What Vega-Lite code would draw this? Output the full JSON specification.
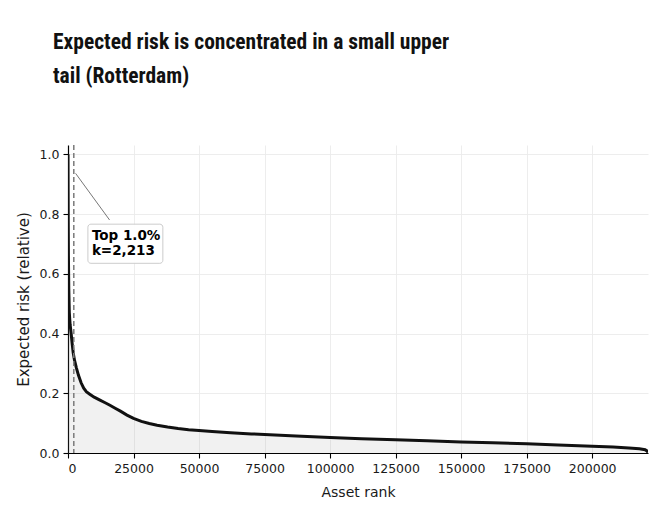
{
  "$schema": "https://vega.github.io/schema/vega-lite/v6.json",
  "width": 580,
  "height": 308,
  "autosize": {"type": "none"},
  "padding": {"left": 68, "top": 145, "right": 16, "bottom": 75},
  "background": "white",
  "title": {
    "text": ["Expected risk is concentrated in a small upper", "tail (Rotterdam)"],
    "font": "Roboto Condensed, Roboto",
    "fontSize": 21.5,
    "fontWeight": "bold",
    "color": "#111111",
    "anchor": "start",
    "frame": "group",
    "dx": -15,
    "offset": 57,
    "lineHeight": 34
  },
  "config": {
    "view": {"stroke": null},
    "axis": {
      "labelFont": "DejaVu Sans",
      "labelFontSize": 12.5,
      "labelColor": "#1a1a1a",
      "titleFont": "DejaVu Sans",
      "titleFontSize": 14,
      "titleFontWeight": "normal",
      "titleColor": "#1a1a1a",
      "domainColor": "#000000",
      "domainWidth": 1.2,
      "tickColor": "#000000",
      "tickSize": 5,
      "tickWidth": 1.1,
      "gridColor": "#ebebeb",
      "gridWidth": 0.9,
      "labelPadding": 4
    }
  },
  "datasets": {
    "curve": [
      {"rank": 0, "risk": 1.0},
      {"rank": 30, "risk": 0.9},
      {"rank": 80, "risk": 0.78},
      {"rank": 160, "risk": 0.66},
      {"rank": 300, "risk": 0.55},
      {"rank": 500, "risk": 0.47},
      {"rank": 800, "risk": 0.43},
      {"rank": 1200, "risk": 0.4},
      {"rank": 1600, "risk": 0.365},
      {"rank": 2000, "risk": 0.335},
      {"rank": 2500, "risk": 0.31},
      {"rank": 3200, "risk": 0.285},
      {"rank": 4000, "risk": 0.26},
      {"rank": 5000, "risk": 0.235},
      {"rank": 6000, "risk": 0.217},
      {"rank": 7000, "risk": 0.205},
      {"rank": 8300, "risk": 0.197},
      {"rank": 10000, "risk": 0.187},
      {"rank": 12000, "risk": 0.178},
      {"rank": 14000, "risk": 0.169},
      {"rank": 16000, "risk": 0.16},
      {"rank": 18000, "risk": 0.15},
      {"rank": 20000, "risk": 0.14},
      {"rank": 22500, "risk": 0.127},
      {"rank": 25000, "risk": 0.116},
      {"rank": 28000, "risk": 0.106},
      {"rank": 31000, "risk": 0.099},
      {"rank": 34000, "risk": 0.093},
      {"rank": 38000, "risk": 0.087},
      {"rank": 42000, "risk": 0.082},
      {"rank": 46000, "risk": 0.078},
      {"rank": 50000, "risk": 0.075},
      {"rank": 55000, "risk": 0.072},
      {"rank": 62000, "risk": 0.068},
      {"rank": 70000, "risk": 0.064},
      {"rank": 75000, "risk": 0.062},
      {"rank": 87000, "risk": 0.057},
      {"rank": 100000, "risk": 0.052},
      {"rank": 112000, "risk": 0.048},
      {"rank": 125000, "risk": 0.044},
      {"rank": 137000, "risk": 0.041},
      {"rank": 150000, "risk": 0.037},
      {"rank": 162000, "risk": 0.034},
      {"rank": 175000, "risk": 0.031},
      {"rank": 187000, "risk": 0.027},
      {"rank": 200000, "risk": 0.023},
      {"rank": 208000, "risk": 0.02},
      {"rank": 214000, "risk": 0.017},
      {"rank": 218000, "risk": 0.014},
      {"rank": 220200, "risk": 0.011},
      {"rank": 220900, "risk": 0.007},
      {"rank": 221300, "risk": 0.002}
    ],
    "cutoff": [{"k": 2213}],
    "leader": [{"x1": 2900, "y1": 0.936, "x2": 15860, "y2": 0.78}],
    "box": [{"x1": 7590, "x2": 36190, "y1": 0.635, "y2": 0.766}],
    "note": [{"x": 9110, "y": 0.713, "label": "Top 1.0%\nk=2,213"}]
  },
  "layer": [
    {
      "data": {"name": "curve"},
      "mark": {"type": "area", "color": "#888888", "opacity": 0.12},
      "encoding": {
        "x": {
          "field": "rank", "type": "quantitative",
          "scale": {"domain": [0, 221300], "nice": false, "zero": false},
          "axis": {
            "title": "Asset rank",
            "values": [0, 25000, 50000, 75000, 100000, 125000, 150000, 175000, 200000],
            "format": "d",
            "grid": true,
            "titlePadding": 11
          }
        },
        "y": {
          "field": "risk", "type": "quantitative",
          "scale": {"domain": [0, 1.031], "nice": false},
          "axis": {
            "title": "Expected risk (relative)",
            "titleFontSize": 15,
            "values": [0, 0.2, 0.4, 0.6, 0.8, 1.0],
            "format": ".1f",
            "grid": true,
            "titlePadding": 8
          }
        }
      }
    },
    {
      "data": {"name": "curve"},
      "mark": {"type": "line", "color": "#111111", "strokeWidth": 3, "clip": true},
      "encoding": {
        "x": {"field": "rank", "type": "quantitative"},
        "y": {"field": "risk", "type": "quantitative"}
      }
    },
    {
      "data": {"name": "cutoff"},
      "mark": {"type": "rule", "color": "#7a7a7a", "strokeWidth": 1.5, "strokeDash": [5, 3]},
      "encoding": {
        "x": {"field": "k", "type": "quantitative"}
      }
    },
    {
      "data": {"name": "leader"},
      "mark": {"type": "rule", "color": "#777777", "strokeWidth": 1},
      "encoding": {
        "x": {"field": "x1", "type": "quantitative"},
        "x2": {"field": "x2"},
        "y": {"field": "y1", "type": "quantitative"},
        "y2": {"field": "y2"}
      }
    },
    {
      "data": {"name": "box"},
      "mark": {"type": "rect", "fill": "white", "fillOpacity": 0.9, "stroke": "#cccccc", "strokeWidth": 1, "cornerRadius": 3},
      "encoding": {
        "x": {"field": "x1", "type": "quantitative"},
        "x2": {"field": "x2"},
        "y": {"field": "y1", "type": "quantitative"},
        "y2": {"field": "y2"}
      }
    },
    {
      "data": {"name": "note"},
      "mark": {"type": "text", "font": "DejaVu Sans", "fontSize": 13.5, "fontWeight": "bold", "color": "#000000", "align": "left", "baseline": "alphabetic", "lineBreak": "\n", "lineHeight": 15},
      "encoding": {
        "x": {"field": "x", "type": "quantitative"},
        "y": {"field": "y", "type": "quantitative"},
        "text": {"field": "label"}
      }
    }
  ]
}
